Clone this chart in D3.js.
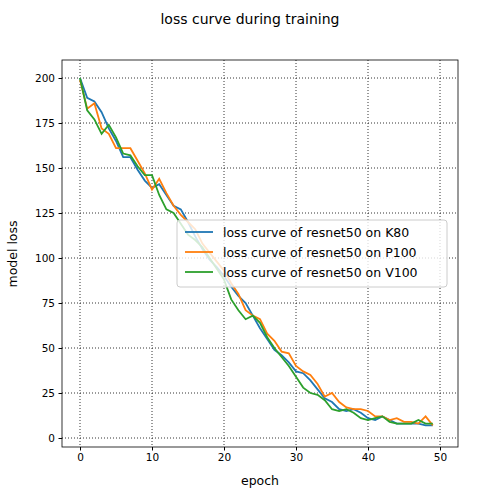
<!DOCTYPE html>
<meta charset="utf-8">
<style>
body { margin: 0; background: #fff; }
text { font-family: "DejaVu Sans", sans-serif; }
.grid line { stroke: #000; stroke-dasharray: 1,2; stroke-width: 0.8; }
</style>
<body>
<script src="https://cdn.jsdelivr.net/npm/d3@7"></script>
<script>
var k80 = [200,189,187,181,172,165,156,156,149,143,139,141,135,129,127,120,112,105,99,95,90,84,79,75,68,61,55,49,46,42,37,36,32,27,22,20,16,15,16,14,11,10,12,10,8,8,8,8,7,7];
var p100 = [199,183,186,172,169,161,161,161,154,147,138,144,136,129,124,120,116,108,103,98,93,86,80,71,68,66,58,54,48,47,40,37,35,30,23,25,20,17,16,16,15,12,12,10,11,9,9,8,12,7];
var v100 = [200,182,177,169,174,167,158,157,151,146,146,135,127,125,119,113,110,106,100,94,88,77,71,66,68,64,56,50,45,40,34,28,25,24,21,16,15,16,14,11,10,11,12,9,8,8,8,10,8,8];
var names = ["loss curve of resnet50 on K80", "loss curve of resnet50 on P100", "loss curve of resnet50 on V100"];
var colors = ["#1f77b4", "#ff7f0e", "#2ca02c"];
var xTicks = [0,10,20,30,40,50];
var yTicks = [0,25,50,75,100,125,150,175,200];

var L = 62, R = 458, T = 60, B = 447;
var svg = d3.select("body").append("svg").attr("width", 500).attr("height", 500);
var x = d3.scaleLinear().domain([-2.5, 52.5]).range([L, R]);
var y = d3.scaleLinear().domain([-5, 210]).range([B, T]);

var grid = svg.append("g").attr("class", "grid");
grid.selectAll(".vx").data(xTicks).enter().append("line")
  .attr("x1", d => x(d)).attr("x2", d => x(d)).attr("y1", T).attr("y2", B);
grid.selectAll(".hy").data(yTicks).enter().append("line")
  .attr("y1", d => y(d)).attr("y2", d => y(d)).attr("x1", L).attr("x2", R);

var line = d3.line().x((d, i) => x(i)).y(d => y(d));
[k80, p100, v100].forEach(function(s, i) {
  svg.append("path").datum(s).attr("d", line).attr("fill", "none")
    .attr("stroke", colors[i]).attr("stroke-width", 1.8);
});

svg.append("g").attr("transform", "translate(0," + B + ")")
  .call(d3.axisBottom(x).tickValues(xTicks).tickSizeOuter(0).tickSize(3.5).tickPadding(3.5))
  .call(g => g.select(".domain").remove())
  .selectAll("text").attr("font-size", 10.5).attr("fill", "#000");
svg.append("g").attr("transform", "translate(" + L + ",0)")
  .call(d3.axisLeft(y).tickValues(yTicks).tickSizeOuter(0).tickSize(3.5).tickPadding(3.5))
  .call(g => g.select(".domain").remove())
  .selectAll("text").attr("font-size", 10.5).attr("fill", "#000");
svg.append("rect").attr("x", L).attr("y", T).attr("width", R - L).attr("height", B - T)
  .attr("fill", "none").attr("stroke", "#000").attr("stroke-width", 0.8);

// legend
var lg = svg.append("g").attr("transform", "translate(177,220)");
lg.append("rect").attr("width", 270).attr("height", 67).attr("rx", 3)
  .attr("fill", "#fff").attr("fill-opacity", 0.8).attr("stroke", "#ccc");
names.forEach(function(n, i) {
  var yy = 12 + i * 20;
  lg.append("line").attr("x1", 8).attr("x2", 36).attr("y1", yy).attr("y2", yy)
    .attr("stroke", colors[i]).attr("stroke-width", 1.8);
  lg.append("text").attr("x", 46).attr("y", yy + 4.5).attr("font-size", 12.5).text(n);
});

svg.append("text").attr("x", 250).attr("y", 24).attr("text-anchor", "middle")
  .attr("font-size", 14).text("loss curve during training");
svg.append("text").attr("x", 260).attr("y", 485).attr("text-anchor", "middle")
  .attr("font-size", 12.5).text("epoch");
svg.append("text").attr("transform", "translate(17,254) rotate(-90)").attr("text-anchor", "middle")
  .attr("font-size", 12.5).text("model loss");
</script>
</body>
